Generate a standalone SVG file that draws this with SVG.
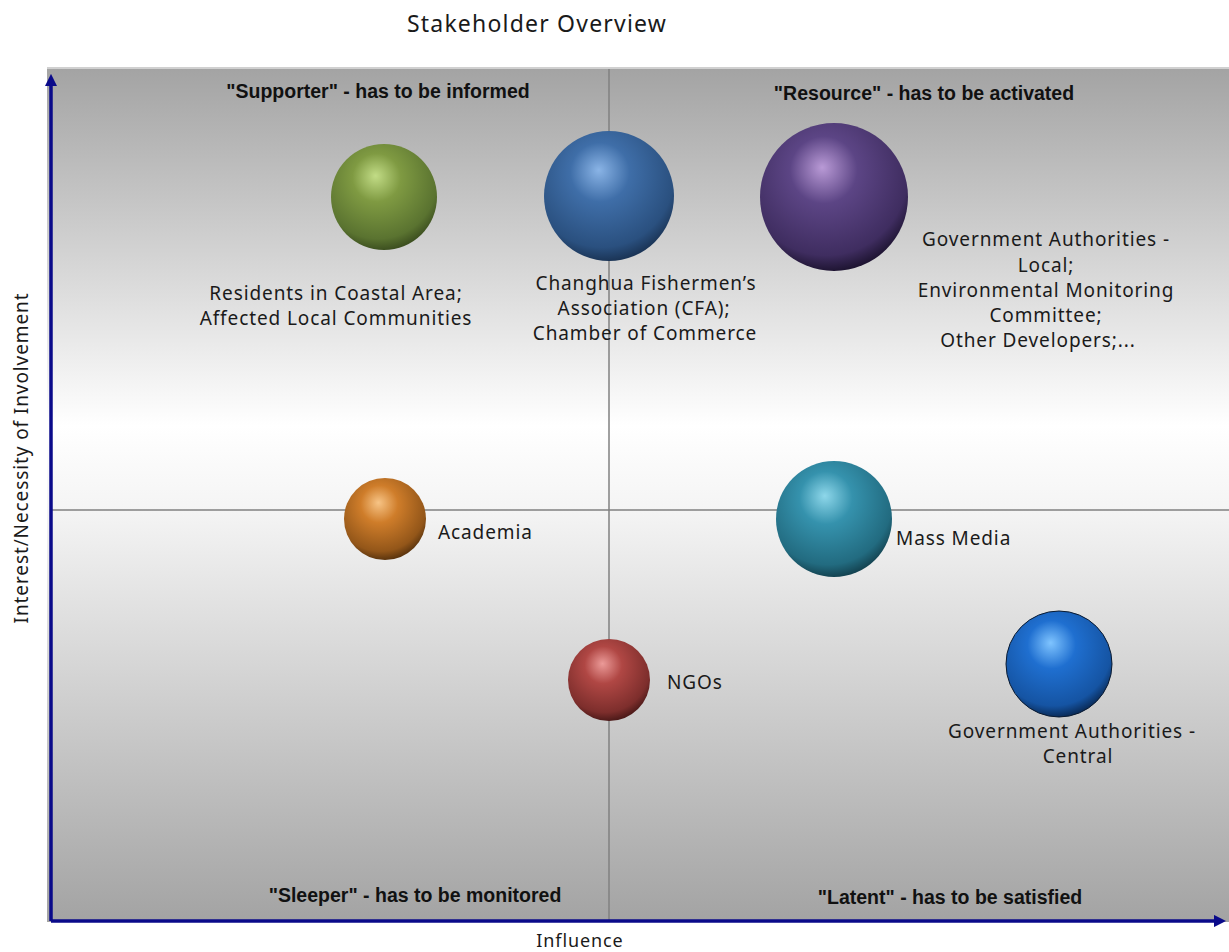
<svg xmlns="http://www.w3.org/2000/svg" width="1229" height="952" viewBox="0 0 1229 952">
<style>
.t{font-family:"Noto Sans","DejaVu Sans",sans-serif;fill:#1a1a1a;letter-spacing:0.9px;}
.lbl{font-size:19px;text-anchor:middle;}
.q{font-family:"Liberation Sans",Arial,sans-serif;font-size:19.5px;font-weight:bold;fill:#111;text-anchor:middle;}
.ax{stroke:#0a0a8a;stroke-width:3.5;fill:none;}
.grid{stroke:#808080;stroke-width:1.5;}
</style>
<defs>
<linearGradient id="bg" x1="0" y1="0" x2="0" y2="1">
<stop offset="0" stop-color="#a3a3a3"/>
<stop offset="0.42" stop-color="#ffffff"/>
<stop offset="0.52" stop-color="#f4f4f4"/>
<stop offset="1" stop-color="#a3a3a3"/>
</linearGradient>
<marker id="ah" viewBox="0 0 10 10" refX="5" refY="5" markerWidth="3.5" markerHeight="3.5" orient="auto-start-reverse">
<path d="M0,0 L10,5 L0,10 z" fill="#0a0a8a"/>
</marker>
<radialGradient id="gGreen" cx="0.45" cy="0.35" r="0.65" fx="0.42" fy="0.3">
<stop offset="0" stop-color="#c2dc86"/><stop offset="0.35" stop-color="#7f9a42"/><stop offset="0.85" stop-color="#5a7330"/><stop offset="1" stop-color="#3d5020"/>
</radialGradient>
<radialGradient id="gBlue" cx="0.45" cy="0.35" r="0.65" fx="0.42" fy="0.3">
<stop offset="0" stop-color="#8ab4e6"/><stop offset="0.35" stop-color="#3f6ea8"/><stop offset="0.85" stop-color="#2a507f"/><stop offset="1" stop-color="#1b3557"/>
</radialGradient>
<radialGradient id="gPurple" cx="0.45" cy="0.35" r="0.65" fx="0.42" fy="0.3">
<stop offset="0" stop-color="#b99ad6"/><stop offset="0.35" stop-color="#5c4585"/><stop offset="0.85" stop-color="#3f2d60"/><stop offset="1" stop-color="#1f1533"/>
</radialGradient>
<radialGradient id="gOrange" cx="0.45" cy="0.35" r="0.65" fx="0.42" fy="0.3">
<stop offset="0" stop-color="#f7c486"/><stop offset="0.35" stop-color="#cf7d2a"/><stop offset="0.85" stop-color="#935619"/><stop offset="1" stop-color="#5c350e"/>
</radialGradient>
<radialGradient id="gTeal" cx="0.45" cy="0.35" r="0.65" fx="0.42" fy="0.3">
<stop offset="0" stop-color="#8ed7ea"/><stop offset="0.35" stop-color="#3592ad"/><stop offset="0.85" stop-color="#226b80"/><stop offset="1" stop-color="#144452"/>
</radialGradient>
<radialGradient id="gRed" cx="0.45" cy="0.35" r="0.65" fx="0.42" fy="0.3">
<stop offset="0" stop-color="#eb9a98"/><stop offset="0.35" stop-color="#b04744"/><stop offset="0.85" stop-color="#7d2e2c"/><stop offset="1" stop-color="#4d1a19"/>
</radialGradient>
<radialGradient id="gBright" cx="0.45" cy="0.35" r="0.65" fx="0.42" fy="0.3">
<stop offset="0" stop-color="#7fc4ff"/><stop offset="0.35" stop-color="#1f6fd0"/><stop offset="0.85" stop-color="#1554a3"/><stop offset="1" stop-color="#0a2c5a"/>
</radialGradient>
</defs>
<rect width="1229" height="952" fill="#ffffff"/>
<text class="t" x="537" y="32" font-size="23" text-anchor="middle" style="letter-spacing:1.2px">Stakeholder Overview</text>
<rect x="47" y="67" width="1182" height="855" fill="url(#bg)"/>
<rect x="47" y="67" width="1182" height="2" fill="#d0d0d0"/>
<g id="connectors">
<line class="grid" x1="609" y1="69" x2="609" y2="920"/>
<line class="grid" x1="50" y1="510" x2="1229" y2="510"/>
<line class="ax" x1="51" y1="921" x2="51" y2="80" marker-end="url(#ah)"/>
<line class="ax" x1="51" y1="921" x2="1220" y2="921" marker-end="url(#ah)"/>
</g>
<g id="quadrant-labels">
<text class="q" x="378" y="98">"Supporter" - has to be informed</text>
<text class="q" x="924" y="100">"Resource" - has to be activated</text>
<text class="q" x="415" y="902">"Sleeper" - has to be monitored</text>
<text class="q" x="950" y="904">"Latent" - has to be satisfied</text>
</g>
<g id="axis-labels">
<text class="t" x="580" y="947" font-size="18" text-anchor="middle">Influence</text>
<text class="t" transform="translate(28,458) rotate(-90)" font-size="19" text-anchor="middle">Interest/Necessity  of Involvement</text>
</g>
<g id="node-residents">
<circle cx="384" cy="197" r="53" fill="url(#gGreen)"/>
<text class="t lbl" x="336" y="300">Residents in Coastal Area;</text>
<text class="t lbl" x="336" y="325">Affected Local Communities</text>
</g>
<g id="node-cfa">
<circle cx="609" cy="196" r="65" fill="url(#gBlue)"/>
<text class="t lbl" x="646" y="290">Changhua Fishermen’s</text>
<text class="t lbl" x="644" y="315">Association (CFA);</text>
<text class="t lbl" x="645" y="340">Chamber of Commerce</text>
</g>
<g id="node-government-local">
<circle cx="834" cy="197" r="74" fill="url(#gPurple)"/>
<text class="t lbl" x="1046" y="246">Government Authorities -</text>
<text class="t lbl" x="1046" y="272">Local;</text>
<text class="t lbl" x="1046" y="297">Environmental Monitoring</text>
<text class="t lbl" x="1046" y="322">Committee;</text>
<text class="t lbl" x="1038" y="347">Other Developers;...</text>
</g>
<g id="node-academia">
<circle cx="385" cy="519" r="41" fill="url(#gOrange)"/>
<text class="t" x="438" y="539" font-size="19">Academia</text>
</g>
<g id="node-mass-media">
<circle cx="834" cy="519" r="58" fill="url(#gTeal)"/>
<text class="t" x="896" y="545" font-size="19">Mass Media</text>
</g>
<g id="node-ngos">
<circle cx="609" cy="680" r="41" fill="url(#gRed)"/>
<text class="t" x="667" y="689" font-size="19">NGOs</text>
</g>
<g id="node-government-central">
<circle cx="1059" cy="664" r="53" fill="url(#gBright)" stroke="#0a1a30" stroke-width="1"/>
<text class="t lbl" x="1072" y="738">Government Authorities -</text>
<text class="t lbl" x="1078" y="763">Central</text>
</g>
</svg>
